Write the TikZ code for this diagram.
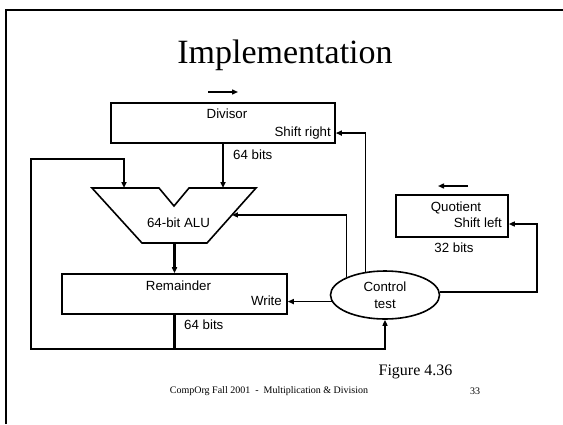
\documentclass[tikz,border=0pt]{standalone}
\usepackage{fontspec}
\setmainfont{Liberation Serif}
\newfontfamily\arialfont{Liberation Sans}
\usetikzlibrary{arrows.meta,shapes.geometric,calc}

\tikzset{
  reg/.style={draw,line width=1.6pt,inner sep=0pt},
  lbl/.style={font=\arialfont\fontsize{13.3}{17}\selectfont,inner sep=0pt},
  bus/.style={line width=2.6pt},
  ctl/.style={line width=1.4pt},
  tip/.style={-{Triangle[length=6pt,width=5pt]}},
}

\begin{document}
\begin{tikzpicture}[x=1pt,y=-1pt]
    \useasboundingbox (0,0) rectangle (563,424);
    % slide frame and title
    \draw[line width=2.5pt] (6,424) -- (6,10) -- (563,10);
    \node[font=\fontsize{34}{40}\selectfont,inner sep=0pt,anchor=base] (title) at (285,63) {Implementation};

    % registers
    \node[reg,minimum width=224pt,minimum height=40pt] (divisor) at (223,123) {};
    \node[lbl,anchor=base] (divname) at (227,118.5) {Divisor};
    \node[lbl,anchor=base east] (divshift) at (331,136.5) {Shift right};

    \node[reg,minimum width=225pt,minimum height=40pt] (remainder) at (174.5,294) {};
    \node[lbl,anchor=base] (remname) at (178.5,290.5) {Remainder};
    \node[lbl,anchor=base east] (remwrite) at (282,305.5) {Write};

    \node[reg,minimum width=112pt,minimum height=42pt] (quotient) at (452,216) {};
    \node[lbl,anchor=base] (quoname) at (456,211.5) {Quotient};
    \node[lbl,anchor=base east] (quoshift) at (502,227.5) {Shift left};

    % control unit
    \node[reg,ellipse,lbl,align=center,minimum width=109pt,minimum height=48pt] (control) at (385,295) {Control\\test};

    % the ALU outline
    \coordinate (alutl) at (92,188);
    \coordinate (alunl) at (159,188);
    \coordinate (alunb) at (174,206);
    \coordinate (alunr) at (189,188);
    \coordinate (alutr) at (256,188);
    \coordinate (alubr) at (207,243);
    \coordinate (alubl) at (142,243);
    \draw[line width=1.6pt,line join=miter] (alutl) -- (alunl) -- (alunb) -- (alunr) -- (alutr) -- (alubr) -- (alubl) -- cycle;
    \node[lbl,anchor=base] (alu) at (178.5,227.5) {64-bit ALU};
    \coordinate (aluin) at (124,188);
    \coordinate (aluout) at ($(alubl)!0.5!(alubr)$);
    \coordinate (aluside) at ($(alutr)!0.49!(alubr)$);

    % datapath
    \draw[bus,tip] (divisor.south) -- (divisor.south |- alutr);
    \draw[bus,tip] (aluout) -- (remainder.north);
    \coordinate (loopbl) at (31,349);
    \coordinate (looptl) at (31,159);
    \draw[bus,tip] (remainder.south) |- (loopbl) -- (looptl) -| (aluin);

    \node[lbl,anchor=base west] (divbits) at (233,159.5) {64 bits};
    \node[lbl,anchor=base west] (rembits) at (184,329.5) {64 bits};
    \node[lbl,anchor=base] (quobits) at (454,252.5) {32 bits};

    % control signals
    \draw[ctl,tip] (remainder.south |- loopbl) -| (control.south);
    \draw[ctl,tip] (control.187) -- (control.187 -| remainder.east);
    \draw[ctl,tip] (control.155) |- (aluside);
    \draw[ctl,tip] (control.130) |- (divisor.east |- divshift);
    \coordinate (qbend) at (537,224);
    \draw[ctl,tip] (control.3) -| (qbend) -- (quotient.east |- qbend);

    % shift directions
    \coordinate (dirrs) at (208,92);
    \coordinate (dirre) at (238,92);
    \draw[ctl,tip] (dirrs) -- (dirre);
    \coordinate (dirls) at (468,186);
    \coordinate (dirle) at (438,186);
    \draw[ctl,tip] (dirls) -- (dirle);

    % captions
    \node[font=\fontsize{16}{19}\selectfont,inner sep=0pt] (figref) at (415.5,372) {Figure 4.36};
    \node[font=\fontsize{10}{12}\selectfont,inner sep=0pt] (footer) at (269,391) {CompOrg Fall 2001~~-~~Multiplication \& Division};
    \node[font=\fontsize{10}{12}\selectfont,inner sep=0pt] (pageno) at (475,391) {33};
\end{tikzpicture}
\end{document}
